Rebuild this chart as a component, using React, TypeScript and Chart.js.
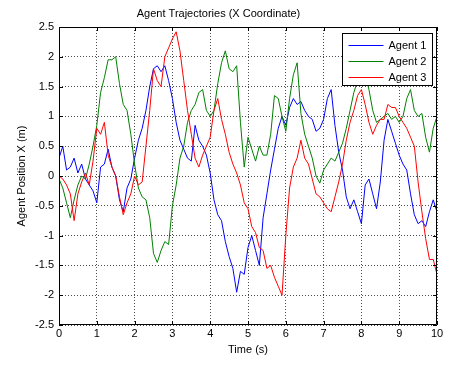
import React, { useEffect, useRef } from "react";
import { Chart, registerables } from "chart.js";

Chart.register(...registerables);

const times = [
  0, 0.1, 0.2, 0.3, 0.4, 0.5, 0.6, 0.7, 0.8, 0.9,
  1, 1.1, 1.2, 1.3, 1.4, 1.5, 1.6, 1.7, 1.8, 1.9,
  2, 2.1, 2.2, 2.3, 2.4, 2.5, 2.6, 2.7, 2.8, 2.9,
  3, 3.1, 3.2, 3.3, 3.4, 3.5, 3.6, 3.7, 3.8, 3.9,
  4, 4.1, 4.2, 4.3, 4.4, 4.5, 4.6, 4.7, 4.8, 4.9,
  5, 5.1, 5.2, 5.3, 5.4, 5.5, 5.6, 5.7, 5.8, 5.9,
  6, 6.1, 6.2, 6.3, 6.4, 6.5, 6.6, 6.7, 6.8, 6.9,
  7, 7.1, 7.2, 7.3, 7.4, 7.5, 7.6, 7.7, 7.8, 7.9,
  8, 8.1, 8.2, 8.3, 8.4, 8.5, 8.6, 8.7, 8.8, 8.9,
  9, 9.1, 9.2, 9.3, 9.4, 9.5, 9.6, 9.7, 9.8, 9.9,
  10,
];

const agent1 = [
  0.3, 0.5, 0.1, 0.15, 0.3, 0.05, 0.2, -0.05, -0.15, -0.25,
  -0.45, 0.15, 0.2, 0.45, 0.15, 0.0, -0.4, -0.6, -0.2, -0.05,
  0.3, 0.6, 0.8, 1.1, 1.5, 1.8, 1.85, 1.75, 1.85, 1.6,
  1.3, 0.9, 0.6, 0.45, 0.3, 0.25, 0.85, 0.6, 0.5, 0.35,
  0.05, -0.4, -0.65, -0.75, -1.1, -1.35, -1.55, -1.95, -1.6, -1.65,
  -1.2, -1.0, -1.25, -1.5, -0.7, -0.3, 0.1, 0.45, 0.8, 1.0,
  0.85, 1.15, 1.3, 1.2, 1.25, 1.1, 1.0, 0.95, 0.75, 0.8,
  0.95, 1.3, 1.45, 0.85, 0.4, 0.1, -0.35, -0.55, -0.4, -0.6,
  -0.8, -0.15, -0.05, -0.3, -0.55, -0.1, 0.6, 0.95, 0.75, 0.55,
  0.35, 0.2, 0.1, -0.3, -0.65, -0.8, -0.75, -0.85, -0.6, -0.4,
  -0.6,
];

const agent2 = [
  -0.05, -0.2, -0.45, -0.7, -0.4, -0.15, 0.0, -0.05, 0.2, 0.5,
  0.85, 1.4, 1.65, 1.95, 1.95, 2.0, 1.55, 1.2, 1.1, 0.7,
  0.2, -0.2, -0.35, -0.4, -0.7, -1.3, -1.45, -1.25, -1.1, -1.15,
  -0.5, -0.15, 0.3, 0.5, 0.9, 1.1, 1.2, 1.4, 1.45, 1.1,
  1.0, 1.1, 1.55, 1.9, 2.1, 1.8, 1.75, 1.85, 0.9, 0.15,
  0.65, 0.45, 0.25, 0.5, 0.35, 0.35, 0.7, 1.35, 1.3, 1.0,
  0.75, 1.3, 1.7, 1.9, 1.05, 0.7, 0.5, 0.3, 0.0, -0.12,
  0.1, 0.2, 0.3, 0.25, 0.4, 0.55, 0.8, 1.1, 1.4, 1.6,
  1.65, 1.7, 1.45, 1.1, 0.9, 0.95, 1.0, 1.05, 0.95, 1.0,
  0.9, 1.0, 1.3, 1.45, 1.1, 1.0, 1.05, 0.65, 0.4, 0.8,
  1.0,
];

const agent3 = [
  0.0, -0.05, -0.15, -0.3, -0.75, -0.3, -0.1, 0.05, -0.15, 0.25,
  0.8, 0.7, 0.9, 0.35, 0.15, 0.0, -0.35, -0.65, -0.45, -0.3,
  0.0, -0.15, -0.1, 0.5, 1.1, 1.8, 1.6, 1.5, 2.0, 2.15,
  2.3, 2.42, 2.1, 1.6, 1.1, 0.7, 0.3, 0.15, 0.35, 0.5,
  0.65, 1.1, 1.3, 0.95, 0.7, 0.4, 0.2, 0.05, -0.15, -0.45,
  -0.55, -0.85, -0.95, -1.2, -1.25, -1.55, -1.5, -1.7, -1.85, -2.0,
  -1.0, -0.2, 0.15, 0.3, 0.6, 0.3, 0.2, -0.05, -0.3, -0.35,
  -0.45, -0.55, -0.6, -0.35, -0.1, 0.2, 0.6, 0.9, 1.1, 1.35,
  1.45, 1.2, 0.9, 0.7, 0.85, 0.95, 0.95, 1.2, 1.15, 1.15,
  1.0, 0.9, 0.8, 0.65, 0.5, -0.1, -0.6, -1.05, -1.4, -1.4,
  -1.65,
];

const seriesNames = ["Agent 1", "Agent 2", "Agent 3"];
const seriesColors = ["#0000ff", "#008000", "#ff0000"];
const titleText = "Agent Trajectories (X Coordinate)";
const xTitle = "Time (s)";
const yTitle = "Agent Position X (m)";

const FONT = "'Liberation Sans', Arial, sans-serif";

const boxPlugin = {
  id: "matlabBox",
  afterDatasetsDraw(chart: any) {
    const { ctx, chartArea } = chart;
    const left = Math.round(chartArea.left);
    const right = Math.round(chartArea.right);
    const top = Math.round(chartArea.top);
    const bottom = Math.round(chartArea.bottom);
    ctx.save();
    ctx.strokeStyle = "#000";
    ctx.lineWidth = 1;
    ctx.setLineDash([]);
    ctx.beginPath();
    ctx.rect(left + 0.5, top + 0.5, right - left - 1, bottom - top - 1);
    ctx.stroke();
    const xs = chart.scales.x;
    const ys = chart.scales.y;
    const tl = 4;
    ctx.beginPath();
    xs.ticks.forEach((t: any) => {
      const px = Math.round(xs.getPixelForValue(t.value)) + 0.5;
      ctx.moveTo(px, bottom);
      ctx.lineTo(px, bottom - tl);
      ctx.moveTo(px, top);
      ctx.lineTo(px, top + tl);
    });
    ys.ticks.forEach((t: any) => {
      const py = Math.round(ys.getPixelForValue(t.value)) + 0.5;
      ctx.moveTo(left, py);
      ctx.lineTo(left + tl, py);
      ctx.moveTo(right, py);
      ctx.lineTo(right - tl, py);
    });
    ctx.stroke();

    // legend box inside the plot (north-east)
    const lx = right - 95 + 0.5;
    const ly = top + 6 + 0.5;
    const lw = 90;
    const lh = 52;
    ctx.fillStyle = "#fff";
    ctx.fillRect(lx, ly, lw, lh);
    ctx.strokeStyle = "#000";
    ctx.strokeRect(lx, ly, lw, lh);
    ctx.font = `11px ${FONT}`;
    ctx.textBaseline = "middle";
    ctx.textAlign = "left";
    seriesNames.forEach((name, i) => {
      const yy = Math.round(ly + 11 + i * 16) + 0.5;
      ctx.strokeStyle = seriesColors[i];
      ctx.lineWidth = 1;
      ctx.beginPath();
      ctx.moveTo(lx + 6, yy);
      ctx.lineTo(lx + 41, yy);
      ctx.stroke();
      ctx.fillStyle = "#000";
      ctx.fillText(name, lx + 46, yy);
    });
    ctx.restore();
  },
};

const fmt = (v: any) => String(Number(v));

export default function App() {
  const ref = useRef<HTMLCanvasElement | null>(null);
  useEffect(() => {
    if (!ref.current) return;
    const series = [agent1, agent2, agent3];
    const chart = new Chart(ref.current, {
      type: "line",
      data: {
        datasets: series.map((s, i) => ({
          label: seriesNames[i],
          data: times.map((t, j) => ({ x: t, y: s[j] })),
          borderColor: seriesColors[i],
          backgroundColor: seriesColors[i],
          borderWidth: 1,
          pointRadius: 0,
          tension: 0,
          fill: false,
          order: 3 - i,
        })),
      },
      options: {
        animation: false,
        responsive: false,
        layout: { padding: { left: 0, right: 27, top: 0, bottom: 0 } },
        plugins: {
          legend: { display: false },
          tooltip: { enabled: false },
          title: {
            display: true,
            text: titleText,
            color: "#000",
            font: { family: FONT, size: 11, weight: "normal", lineHeight: 1.2 },
            padding: { top: 7.5, bottom: 6.3 },
          },
        },
        scales: {
          x: {
            type: "linear",
            min: 0,
            max: 10,
            afterFit: (s: any) => {
              s.height = 41;
            },
            ticks: { stepSize: 1, color: "#000", font: { family: FONT, size: 11 }, padding: 2, maxRotation: 0, callback: fmt },
            grid: { color: "rgba(0,0,0,0.7)", lineWidth: 1, drawTicks: false },
            border: { display: false, dash: [1, 2] },
            title: {
              display: true,
              text: xTitle,
              color: "#000",
              font: { family: FONT, size: 11, lineHeight: 1.2 },
              padding: { top: 0, bottom: 9.4 },
            },
          },
          y: {
            type: "linear",
            min: -2.5,
            max: 2.5,
            afterFit: (s: any) => {
              s.width = 59;
            },
            ticks: { stepSize: 0.5, color: "#000", font: { family: FONT, size: 11 }, padding: 5, callback: fmt },
            grid: { color: "rgba(0,0,0,0.7)", lineWidth: 1, drawTicks: false },
            border: { display: false, dash: [1, 2] },
            title: {
              display: true,
              text: yTitle,
              color: "#000",
              font: { family: FONT, size: 11, lineHeight: 1.2 },
              padding: { top: 15.4, bottom: 0 },
            },
          },
        },
      },
      plugins: [boxPlugin],
    });
    return () => chart.destroy();
  }, []);
  return (
    <div style={{ position: "fixed", left: 0, top: 0, width: 464, height: 366, background: "#fff" }}>
      <canvas ref={ref} width={464} height={366} />
    </div>
  );
}
